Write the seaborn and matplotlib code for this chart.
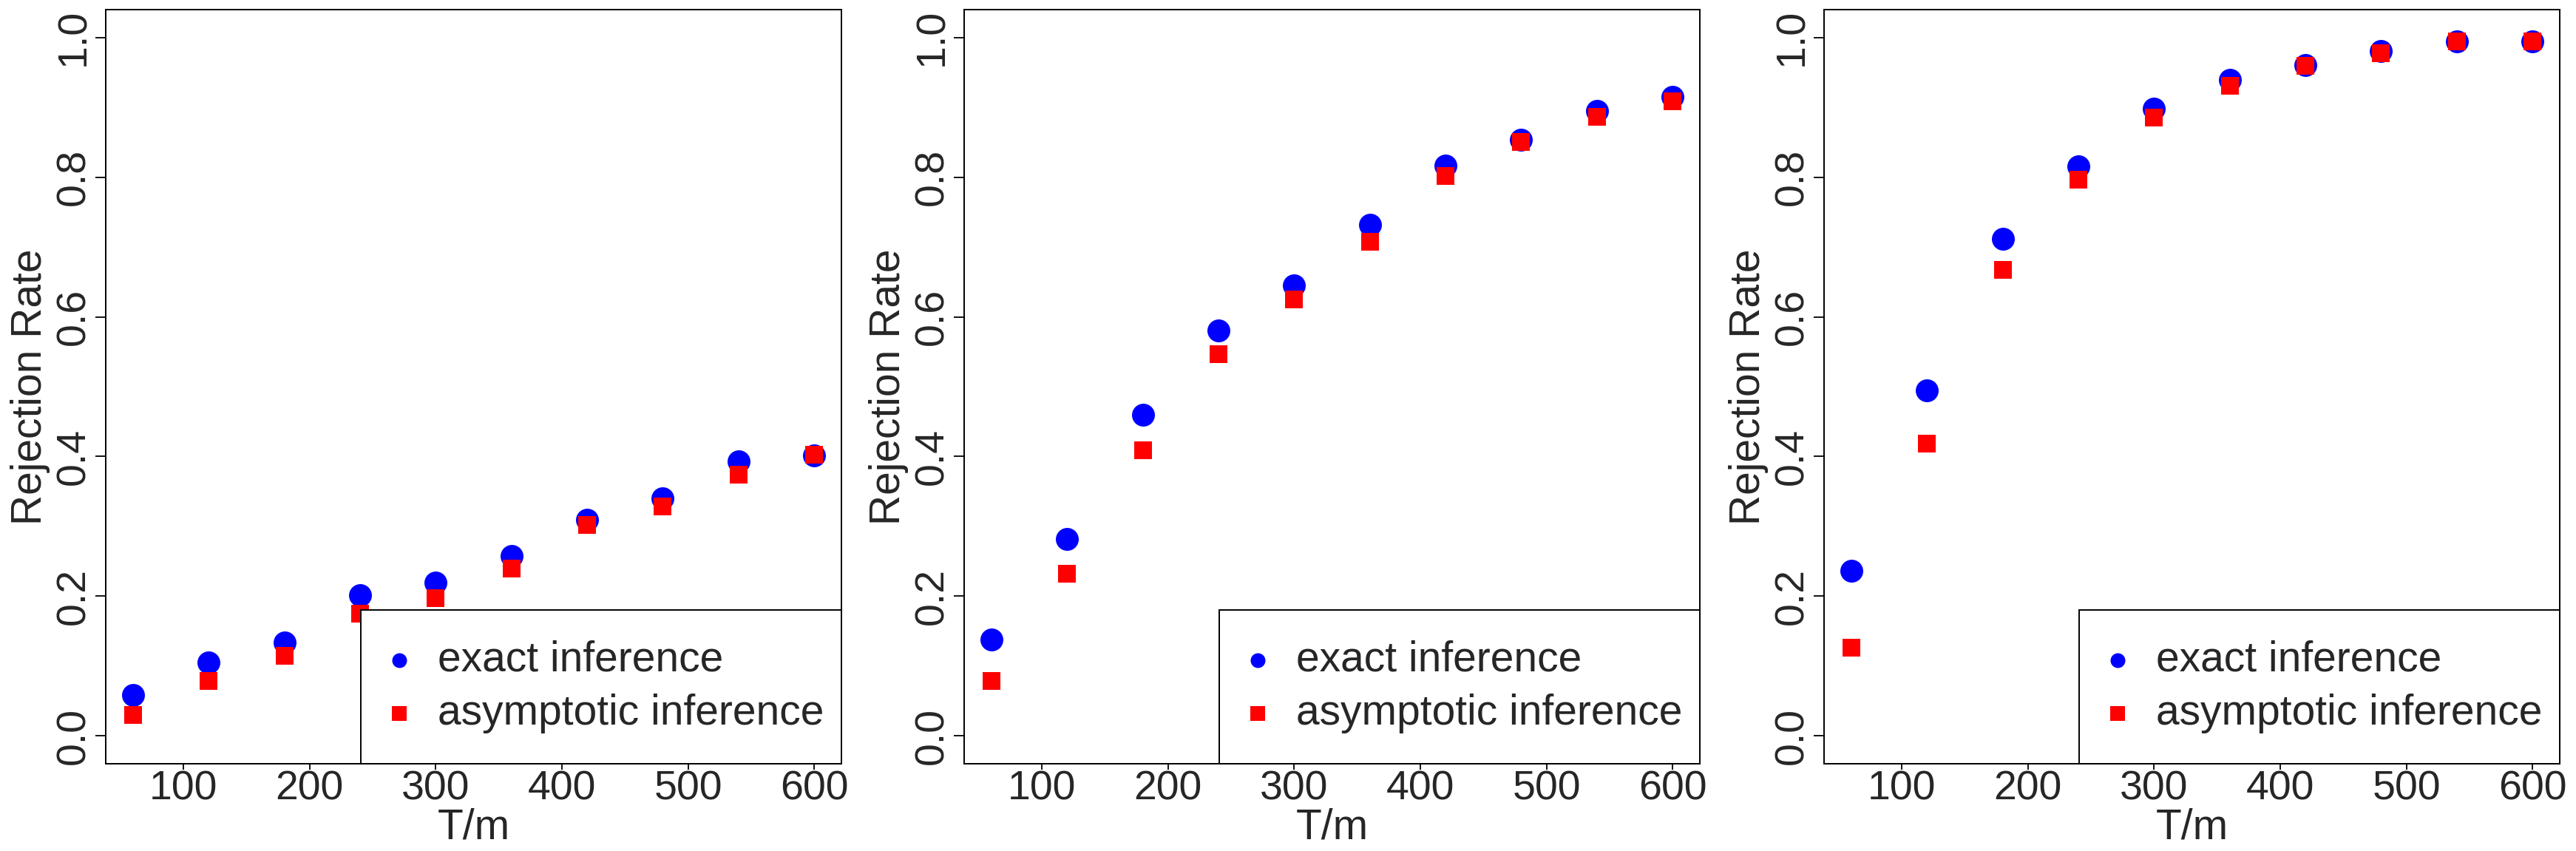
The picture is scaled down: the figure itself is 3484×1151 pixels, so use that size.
import seaborn as sns
import pandas as pd
import matplotlib.pyplot as plt

T = [60, 120, 180, 240, 300, 360, 420, 480, 540, 600]

exact_1 = [0.059, 0.105, 0.134, 0.201, 0.219, 0.258, 0.309, 0.340, 0.393, 0.402]
asym_1 = [0.030, 0.079, 0.115, 0.175, 0.197, 0.240, 0.302, 0.328, 0.374, 0.403]

exact_2 = [0.138, 0.282, 0.460, 0.581, 0.645, 0.732, 0.817, 0.854, 0.895, 0.915]
asym_2 = [0.079, 0.232, 0.409, 0.547, 0.625, 0.708, 0.802, 0.851, 0.886, 0.909]

exact_3 = [0.236, 0.495, 0.712, 0.816, 0.898, 0.939, 0.961, 0.981, 0.995, 0.994]
asym_3 = [0.126, 0.419, 0.667, 0.797, 0.885, 0.931, 0.960, 0.978, 0.995, 0.994]

labels = ['exact inference', 'asymptotic inference']
yticks = [0.0, 0.2, 0.4, 0.6, 0.8, 1.0]
xticks = [100, 200, 300, 400, 500, 600]

sns.set_theme(style='white')
plt.rcParams['font.family'] = ['Liberation Sans', 'DejaVu Sans']

W, H = 3484, 1151
fig = plt.figure(figsize=(W / 100, H / 100), dpi=100)

panels = [(exact_1, asym_1), (exact_2, asym_2), (exact_3, asym_3)]
lefts = [143, 1304, 2467]
top, bottom = 13, 1033
width = 995

for left, (ex, asy) in zip(lefts, panels):
    ax = fig.add_axes([left / W, 1 - bottom / H, width / W, (bottom - top) / H])
    df = pd.DataFrame({'T': T, 'exact': ex, 'asym': asy})
    sns.scatterplot(data=df, x='T', y='exact', ax=ax, color='#0000FF', marker='o',
                    s=497, linewidth=0, label=labels[0], zorder=3)
    sns.scatterplot(data=df, x='T', y='asym', ax=ax, color='#FF0000', marker='s',
                    s=300, linewidth=0, label=labels[1], zorder=3)

    ax.set_xlim(38.4, 621.6)
    ax.set_ylim(-0.04, 1.04)
    ax.set_xticks(xticks)
    ax.set_yticks(yticks)
    ax.set_yticklabels([f'{v:.1f}' for v in yticks], rotation=90, va='center')
    ax.tick_params(axis='x', length=6, width=1.3, pad=0, labelsize=40, color='black', bottom=True)
    ax.tick_params(axis='y', length=10, width=1.3, pad=2, labelsize=40, color='black', left=True)
    for sp in ax.spines.values():
        sp.set_color('black')
        sp.set_linewidth(1.4)

    ax.set_xlabel('T/m', fontsize=41)
    ax.set_ylabel('Rejection Rate', fontsize=41)
    ax.xaxis.set_label_coords(0.5, -0.058)
    ax.yaxis.set_label_coords(-0.075, 0.5)

    leg = ax.legend(loc='lower right', bbox_to_anchor=(0.347, 0.0, 0.653, 0.2),
                    mode='expand', borderaxespad=0, fontsize=41, frameon=True,
                    fancybox=False, framealpha=1, edgecolor='black',
                    borderpad=0.72, labelspacing=0.32, handlelength=0.39,
                    handletextpad=0.72, scatterpoints=1)
    leg.get_frame().set_linewidth(1.4)
    hs = leg.legend_handles
    hs[0].set_sizes([207])
    hs[1].set_sizes([228])

fig.savefig('out.png', dpi=100)
